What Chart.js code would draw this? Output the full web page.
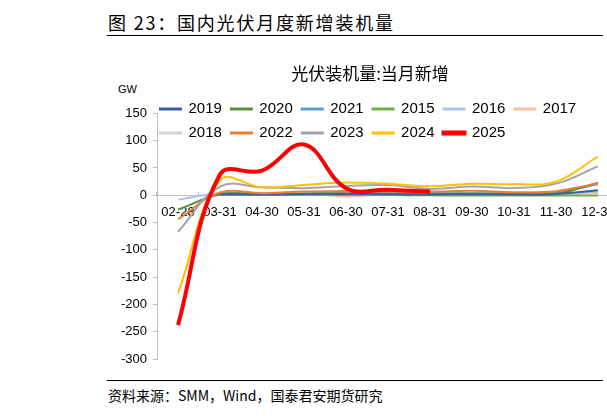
<!DOCTYPE html>
<html lang="zh-CN">
<head>
<meta charset="utf-8">
<title>国内光伏月度新增装机量</title>
<script src="https://cdn.jsdelivr.net/npm/chart.js@4.4.1/dist/chart.umd.min.js"></script>
<style>
  html, body { margin: 0; padding: 0; background: #fff; }
  body {
    position: relative;
    width: 607px;
    height: 416px;
    overflow: hidden;
    font-family: 'Noto Sans CJK SC', sans-serif;
  }
  .rule { position: absolute; left: 107px; width: 496px; height: 1px; background: #000; }
  #title {
    position: absolute; left: 108px; top: 9px;
    font-size: 18px; line-height: 26px; letter-spacing: 1.8px;
    color: #000; white-space: nowrap;
  }
  #unit { position: absolute; left: 118px; top: 83px; font: 11px 'Liberation Sans', sans-serif; color: #000; }
  #chart-box { position: absolute; left: 100px; top: 40px; width: 528px; height: 340px; }
  #source {
    position: absolute; left: 108px; top: 386px;
    font-size: 14px; line-height: 18px; color: #000; white-space: nowrap;
  }
</style>
</head>
<body>
<div id="title">图 23：国内光伏月度新增装机量</div>
<div class="rule" style="top: 35px;"></div>
<div id="unit">GW</div>
<div id="chart-box"><canvas id="pv-chart" width="528" height="340"></canvas></div>
<div class="rule" style="top: 380px;"></div>
<div id="source">资料来源：SMM，Wind，国泰君安期货研究</div>

<script>
const months = ['02-28', '03-31', '04-30', '05-31', '06-30', '07-31', '08-31', '09-30', '10-31', '11-30', '12-31'];
const yearLabels = ['2019', '2020', '2021', '2015', '2016', '2017', '2018', '2022', '2023', '2024', '2025'];

// GW, 当月新增
const values2019 = [null, 2.0, 1.5, 2.5, 2.5, 1.8, 1.5, 1.9, 1.6, 2.4, 9];
const values2020 = [-26, 1.3, 2.2, 2.9, 3.4, 2.3, 2.0, 3.0, 2.2, 2.6, 23];
const values2021 = [null, 5.3, 1.7, 2.3, 3.7, 4.5, 4.3, 3.5, 3.7, 5.6, 20];
const values2015 = [null, 0.5, 0.5, 0.6, 0.5, 0.3, 0, -0.5, -0.5, -0.5, -0.5];
const values2016 = [-8, 3.5, 2, 3, 8, 1.5, 1.5, 2, 1.5, 2, 7];
const values2017 = [null, 2.5, 2.5, 3, -2, 2.5, 3, 2.5, 2, 2, 4];
const values2018 = [null, 4, 4.5, 6.5, 6, 4, 3.5, 4, 3, 3, 6];
const values2022 = [-44, 5, 3.7, 6.8, 7.2, 6.9, 6.7, 8.1, 5.6, 7.5, 21.7];
const values2023 = [-67, 16, 14.7, 12.9, 17.2, 18.7, 11.7, 16, 13.2, 21.3, 53];
const values2024 = [-180, 27, 14.4, 19, 23.3, 21, 16.5, 20.9, 20.4, 25, 71];
const values2025 = [-238, 38, 45, 93, 13, 10, 7, null, null, null, null];

const yTicks = [-300, -250, -200, -150, -100, -50, 0, 50, 100, 150];

const seriesValues = [
    values2019, values2020, values2021, values2015, values2016, values2017,
    values2018, values2022, values2023, values2024, values2025,
];
const lineColors = [
    '#3B5EA8', '#5A8F3C', '#5B9BD5', '#70AD47', '#A9C4E8', '#F8BFA5',
    '#D3D3D3', '#ED7D31', '#A5A5A5', '#FFC000', '#FF0000',
];
// lower order is drawn on top
const drawOrder = [4, 4, 4, 4, 4, 4, 4, 3, 2, 1, 0];

const axisColor = '#BFBFBF';
const tickFont = { family: 'Liberation Sans', size: 13 };

// legend sits over the top of the plot, like the excel original
const legendOverlay = {
    id: 'legendOverlay',
    beforeInit(chart) {
        const fitLegend = chart.legend.fit;
        chart.legend.fit = function () {
            fitLegend.bind(chart.legend)();
            this.height = 21;
        };
    },
    afterLayout(chart) {
        const legend = chart.legend;
        legend.left -= 6;
        legend.right -= 6;
        legend.height = 60;
        legend.bottom = legend.top + 60;
    },
};

const datasets = yearLabels.map((year, i) => ({
    label: year,
    data: seriesValues[i],
    borderColor: lineColors[i],
    backgroundColor: lineColors[i],
    borderWidth: year === '2025' ? 4 : 2,
    pointRadius: 0,
    pointHoverRadius: 0,
    tension: 0.4,
    order: drawOrder[i],
}));

new Chart(document.getElementById('pv-chart'), {
    type: 'line',
    data: {
        labels: months,
        datasets: datasets,
    },
    options: {
        responsive: false,
        animation: false,
        layout: { padding: { left: 21, right: 9, top: 0, bottom: 21 } },
        plugins: {
            tooltip: { enabled: false },
            title: {
                display: true,
                text: '光伏装机量:当月新增',
                color: '#000',
                font: { family: 'Noto Sans CJK SC', size: 17, weight: 'normal' },
                padding: { top: 23, bottom: 9 },
            },
            legend: {
                position: 'top',
                align: 'start',
                fullSize: false,
                labels: {
                    boxWidth: 21,
                    boxHeight: 1,
                    padding: 9,
                    color: '#000',
                    font: { family: 'Liberation Sans', size: 15 },
                    sort: (a, b) => a.datasetIndex - b.datasetIndex,
                },
            },
        },
        scales: {
            x: {
                type: 'category',
                position: { y: 0 },
                offset: true,
                grid: {
                    display: true,
                    drawOnChartArea: false,
                    offset: true,
                    drawTicks: true,
                    tickLength: -4,
                    color: axisColor,
                },
                border: { display: true, color: axisColor, width: 1 },
                ticks: {
                    autoSkip: false,
                    maxRotation: 0,
                    padding: 13,
                    color: '#000',
                    font: tickFont,
                },
            },
            y: {
                min: yTicks[0],
                max: yTicks[yTicks.length - 1],
                afterBuildTicks: (scale) => {
                    scale.ticks = yTicks.map((v) => ({ value: v }));
                },
                afterFit: (scale) => {
                    scale.width = 36;
                },
                grid: {
                    display: true,
                    drawOnChartArea: false,
                    drawTicks: true,
                    tickLength: 4,
                    color: axisColor,
                },
                border: { display: true, color: axisColor, width: 1 },
                ticks: { padding: 6, color: '#000', font: tickFont },
            },
        },
    },
    plugins: [legendOverlay],
});
</script>
</body>
</html>
